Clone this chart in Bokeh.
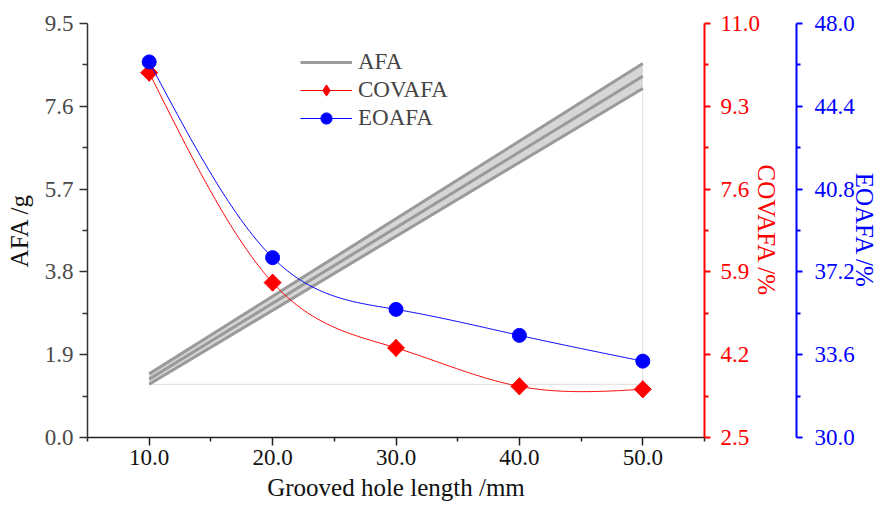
import numpy as np
from bokeh.plotting import figure
from bokeh.models import (Range1d, LinearAxis, FixedTicker, PrintfTickFormatter,
                          Legend, LegendItem)
from bokeh.embed import file_html
from bokeh.resources import INLINE

# ---------------- data ----------------
length_mm = [10, 20, 30, 40, 50]
covafa = [9.99, 5.68, 4.34, 3.55, 3.49]
eoafa = [46.33, 37.82, 35.57, 34.44, 33.32]

afa_x = [10, 50]
afa_fit = [1.34, 8.29]
afa_upper = [1.46, 8.58]
afa_lower = [1.22, 8.01]

x_ticks = [10, 20, 30, 40, 50]
afa_ticks = [0.0, 1.9, 3.8, 5.7, 7.6, 9.5]
cov_ticks = [2.5, 4.2, 5.9, 7.6, 9.3, 11.0]
eo_ticks = [30.0, 33.6, 37.2, 40.8, 44.4, 48.0]


def natural_spline(xs, ys, n=300):
    xs = np.asarray(xs, float)
    ys = np.asarray(ys, float)
    k = len(xs)
    h = np.diff(xs)
    A = np.zeros((k, k))
    b = np.zeros(k)
    A[0, 0] = A[-1, -1] = 1.0
    for i in range(1, k - 1):
        A[i, i - 1] = h[i - 1]
        A[i, i] = 2 * (h[i - 1] + h[i])
        A[i, i + 1] = h[i]
        b[i] = 3 * ((ys[i + 1] - ys[i]) / h[i] - (ys[i] - ys[i - 1]) / h[i - 1])
    c = np.linalg.solve(A, b)
    xx = np.linspace(xs[0], xs[-1], n)
    yy = np.empty_like(xx)
    for j, x in enumerate(xx):
        i = min(np.searchsorted(xs, x, side="right") - 1, k - 2)
        t = x - xs[i]
        bi = (ys[i + 1] - ys[i]) / h[i] - h[i] * (2 * c[i] + c[i + 1]) / 3
        di = (c[i + 1] - c[i]) / (3 * h[i])
        yy[j] = ys[i] + bi * t + c[i] * t * t + di * t ** 3
    return xx, yy


def mids(t):
    return [(a + b) / 2 for a, b in zip(t[:-1], t[1:])]


FONT = "Liberation Serif"
TICK_FS = "23px"
LAB_FS = "25px"

p = figure(width=880, height=506, x_range=Range1d(5, 55), y_range=Range1d(0, 9.5),
           output_backend="svg", toolbar_location=None,
           min_border_left=87, min_border_top=23, min_border_bottom=69, min_border_right=0)
p.outline_line_color = None
p.xgrid.visible = False
p.ygrid.visible = False
p.extra_y_ranges = {"cov": Range1d(cov_ticks[0], cov_ticks[-1]),
                    "eo": Range1d(eo_ticks[0], eo_ticks[-1])}

# AFA band
p.varea(x=afa_x, y1=afa_lower, y2=afa_upper, fill_color="#d6d6d6")
p.line(x=[afa_x[0], afa_x[1], afa_x[1]], y=[afa_lower[0], afa_lower[0], afa_lower[1]],
       line_color="#dedede", line_width=1)
p.line(afa_x, afa_upper, line_color="#9a9a9a", line_width=3)
p.line(afa_x, afa_lower, line_color="#9a9a9a", line_width=3)
afa_line = p.line(afa_x, afa_fit, line_color="#9a9a9a", line_width=3)

# COVAFA
sx, sy = natural_spline(length_mm, covafa)
cov_line = p.line(sx, sy, line_color="red", line_width=1, y_range_name="cov")
# diamond used for the legend symbol (hidden beneath the rotated squares)
cov_leg = p.scatter(length_mm, covafa, marker="diamond", size=17,
                    fill_color="red", line_color="red", y_range_name="cov")
cov_pts = p.scatter(length_mm, covafa, marker="square", angle=np.pi / 4, size=12,
                    fill_color="red", line_color="red", y_range_name="cov")

# EOAFA
bx, by = natural_spline(length_mm, eoafa)
eo_line = p.line(bx, by, line_color="blue", line_width=1, y_range_name="eo")
eo_pts = p.scatter(length_mm, eoafa, marker="circle", size=14,
                   fill_color="blue", line_color="blue", y_range_name="eo")


def style_axis(ax, color, label_color, ticks, minor, label, lw):
    ax.ticker = FixedTicker(ticks=ticks, minor_ticks=minor)
    ax.formatter = PrintfTickFormatter(format="%.1f")
    ax.axis_label = label
    ax.axis_line_color = color
    ax.axis_line_width = lw
    ax.major_tick_line_color = color
    ax.minor_tick_line_color = color
    ax.major_tick_line_width = lw
    ax.minor_tick_line_width = lw
    ax.major_tick_in = 0
    ax.minor_tick_in = 0
    ax.major_label_text_font = FONT
    ax.major_label_text_font_size = TICK_FS
    ax.major_label_text_color = label_color
    ax.axis_label_text_font = FONT
    ax.axis_label_text_font_size = LAB_FS
    ax.axis_label_text_font_style = "normal"
    ax.axis_label_text_color = color


# x axis
xa = p.xaxis[0]
style_axis(xa, "#222222", "#111111", x_ticks, [5] + [t + 5 for t in x_ticks], "Grooved hole length /mm", 1.5)
xa.axis_label_text_color = "#111111"
xa.major_tick_out = 8
xa.minor_tick_out = 4
xa.major_label_standoff = 4
xa.axis_label_standoff = 6

# left axis
ya = p.yaxis[0]
style_axis(ya, "#333333", "#4a4a4a", afa_ticks, mids(afa_ticks), "AFA /g", 1.5)
ya.axis_label_text_color = "#111111"
ya.major_tick_out = 8
ya.minor_tick_out = 5
ya.major_label_standoff = 6
ya.axis_label_standoff = 9

# red axis
ra = LinearAxis(y_range_name="cov")
style_axis(ra, "red", "red", cov_ticks, mids(cov_ticks), "COVAFA /%", 2)
ra.major_tick_out = 6
ra.minor_tick_out = 4
ra.major_label_standoff = 10
ra.axis_label_standoff = -10
p.add_layout(ra, "right")

# spacer axis (empty, only to separate the two right axes)
sp = LinearAxis(y_range_name="cov", ticker=FixedTicker(ticks=[]))
sp.axis_line_color = None
sp.major_tick_line_color = None
sp.minor_tick_line_color = None
sp.major_tick_out = 0
sp.major_label_standoff = 0
sp.axis_label = " "
sp.axis_label_text_font_size = "10px"
sp.axis_label_standoff = 0
p.add_layout(sp, "right")

# blue axis
ba = LinearAxis(y_range_name="eo")
style_axis(ba, "blue", "blue", eo_ticks, mids(eo_ticks), "EOAFA /%", 2)
ba.major_tick_out = 6
ba.minor_tick_out = 4
ba.major_label_standoff = 12
ba.axis_label_standoff = -7
p.add_layout(ba, "right")

legend = Legend(items=[
    LegendItem(label="AFA", renderers=[afa_line]),
    LegendItem(label="COVAFA", renderers=[cov_line, cov_leg]),
    LegendItem(label="EOAFA", renderers=[eo_line, eo_pts]),
], location=(213, 305))
legend.glyph_width = 52
legend.glyph_height = 28
legend.label_height = 22
legend.spacing = 0
legend.padding = 0
legend.margin = 0
legend.border_line_color = None
legend.background_fill_alpha = 0
legend.label_text_font = FONT
legend.label_text_font_size = "23px"
legend.label_standoff = 6
p.add_layout(legend)

open("out.html", "w").write(file_html(p, INLINE))
